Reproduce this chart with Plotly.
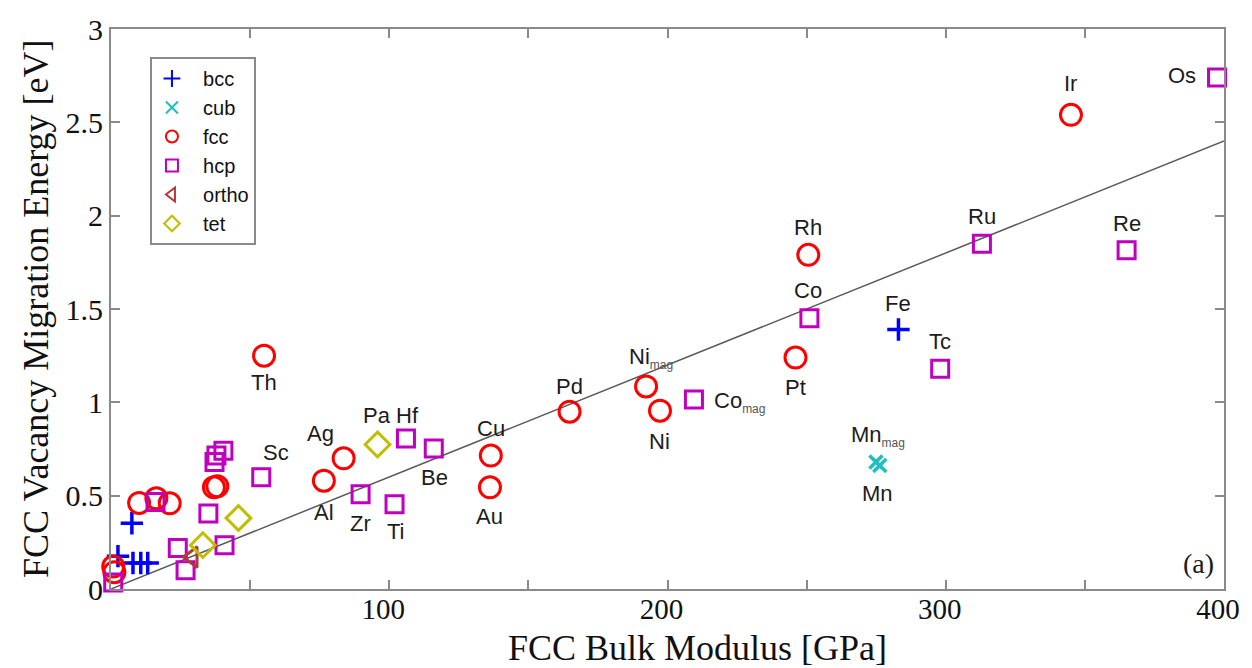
import numpy as np
import plotly.graph_objects as go

# FCC bulk modulus [GPa] vs. FCC vacancy migration energy [eV],
# grouped by each element's ground-state crystal structure.
bcc_modulus = [2.5, 7.5, 7.9, 10.7, 13.2, 283.0]
bcc_energy = [0.176, 0.352, 0.139, 0.139, 0.139, 1.39]
bcc_labels = ["", "", "", "", "", "Fe"]

cub_modulus = [274.9, 276.3]
cub_energy = [0.68, 0.662]
cub_labels = ["Mn_mag", "Mn"]

fcc_modulus = [0.8, 1.2, 10.1, 16.3, 21.1, 37.0, 38.2, 55.0, 76.5, 83.6,
               136.5, 136.2, 164.8, 192.3, 197.3, 246.0, 250.6, 345.0]
fcc_energy = [0.12, 0.09, 0.461, 0.486, 0.459, 0.545, 0.55, 1.25, 0.58, 0.70,
              0.715, 0.545, 0.95, 1.085, 0.955, 1.24, 1.79, 2.54]
fcc_labels = ["", "", "", "", "", "", "", "Th", "Al", "Ag",
              "Cu", "Au", "Pd", "Ni_mag", "Ni", "Pt", "Rh", "Ir"]

hcp_modulus = [0.8, 16.0, 24.0, 26.8, 35.0, 37.2, 37.9, 40.4, 40.8, 54.0,
               89.7, 101.9, 106.0, 116.0, 209.5, 251.0, 298.0, 313.0, 365.0, 397.5]
hcp_energy = [0.035, 0.466, 0.22, 0.10, 0.405, 0.68, 0.715, 0.74, 0.235, 0.598,
              0.507, 0.454, 0.806, 0.753, 1.015, 1.45, 1.18, 1.85, 1.815, 2.74]
hcp_labels = ["", "", "", "", "", "", "", "", "", "Sc",
              "Zr", "Ti", "Hf", "Be", "Co_mag", "Co", "Tc", "Ru", "Re", "Os"]

ortho_modulus = [29.3]
ortho_energy = [0.171]
ortho_labels = [""]

tet_modulus = [33.0, 45.8, 95.8]
tet_energy = [0.235, 0.38, 0.774]
tet_labels = ["", "", "Pa"]

# Linear fit through the origin
fit_slope = 0.006
fit_intercept = 0.0
fit_range = [0, 400]

# Label placement relative to its marker, in pixels (dx right, dy down)
label_offsets = {
    "Fe": (0, -26), "Mn_mag": (2, -26), "Mn": (-2, 28),
    "Th": (0, 27), "Al": (0, 32), "Ag": (-23, -25), "Cu": (0, -27),
    "Au": (0, 29), "Pd": (0, -25), "Ni_mag": (5, -28), "Ni": (0, 31),
    "Pt": (0, 30), "Rh": (0, -27), "Ir": (0, -31),
    "Sc": (15, -25), "Zr": (0, 29), "Ti": (1, 27), "Hf": (2, -23),
    "Be": (1, 29), "Co_mag": (46, 2), "Co": (-1, -28), "Tc": (0, -27),
    "Ru": (0, -27), "Re": (0, -27), "Os": (-35, -2), "Pa": (-1, -29),
}

SANS = "Liberation Sans, Arial, sans-serif"
SERIF = "Liberation Serif, Times New Roman, serif"
AXIS_GREY = "#8a8a8a"
LEGEND_PAD = "\u00a0\u00a0"  # widens the gap between legend symbol and text

series = [
    ("bcc", bcc_modulus, bcc_energy, bcc_labels,
     dict(symbol="cross-thin-open", size=16, color="#0000ff",
          line=dict(color="#0000ff", width=3.5))),
    ("cub", cub_modulus, cub_energy, cub_labels,
     dict(symbol="x-thin-open", size=13, color="#20bfbf",
          line=dict(color="#20bfbf", width=3.5))),
    ("fcc", fcc_modulus, fcc_energy, fcc_labels,
     dict(symbol="circle-open", size=21, color="#ff0000",
          line=dict(color="#ff0000", width=3))),
    ("hcp", hcp_modulus, hcp_energy, hcp_labels,
     dict(symbol="square-open", size=17, color="#bf00bf",
          line=dict(color="#bf00bf", width=3))),
    ("ortho", ortho_modulus, ortho_energy, ortho_labels,
     dict(symbol="triangle-left-open", size=18, color="#b03a3a",
          line=dict(color="#b03a3a", width=3))),
    ("tet", tet_modulus, tet_energy, tet_labels,
     dict(symbol="diamond-open", size=19, color="#bfbf00",
          line=dict(color="#bfbf00", width=3))),
]

fig = go.Figure()

fit_x = np.array(fit_range, dtype=float)
fig.add_trace(go.Scatter(
    x=fit_x, y=fit_slope * fit_x + fit_intercept, mode="lines",
    line=dict(color="#5a5a5a", width=1.5), showlegend=False, hoverinfo="skip",
))

for name, xs, ys, _, marker in series:
    fig.add_trace(go.Scatter(
        x=xs, y=ys, mode="markers", name=LEGEND_PAD + name, marker=marker,
        cliponaxis=False,
    ))


def label_html(label):
    if label.endswith("_mag"):
        base = label[:-4]
        return (base + '<sub><span style="font-size:12px;fill:#555555">mag</span></sub>')
    return label


for name, xs, ys, labels, _ in series:
    for xv, yv, lab in zip(xs, ys, labels):
        if not lab:
            continue
        dx, dy = label_offsets[lab]
        fig.add_annotation(
            x=xv, y=yv, xref="x", yref="y", text=label_html(lab),
            showarrow=False, xanchor="center", yanchor="middle",
            xshift=dx, yshift=-dy,
            font=dict(family=SANS, size=22, color="#1c1c1c"),
        )

# Panel tag
fig.add_annotation(
    x=1, y=0, xref="paper", yref="paper", text="(a)", showarrow=False,
    xanchor="right", yanchor="bottom", xshift=-8, yshift=8,
    font=dict(family=SERIF, size=28, color="#1c1c1c"),
)

# Axis titles
title_font = dict(family=SERIF, size=36, color="#111111")
fig.add_annotation(
    x=0.527, y=0, xref="paper", yref="paper", text="FCC Bulk Modulus [GPa]",
    showarrow=False, xanchor="center", yanchor="middle", yshift=-59,
    font=title_font,
)
fig.add_annotation(
    x=0, y=0.5, xref="paper", yref="paper",
    text="FCC Vacancy Migration Energy [eV]", textangle=-90,
    showarrow=False, xanchor="center", yanchor="middle", xshift=-75,
    font=title_font,
)

axis_common = dict(
    showline=True, mirror="ticks", linecolor=AXIS_GREY, linewidth=2,
    ticks="inside", ticklen=9, tickwidth=1.5, tickcolor=AXIS_GREY,
    showgrid=False, zeroline=False,
)

fig.update_layout(
    width=1252, height=668,
    margin=dict(l=111, r=22, t=27, b=79),
    paper_bgcolor="white", plot_bgcolor="white",
    xaxis=dict(
        range=[0, 400], tickvals=[100, 200, 300, 400],
        ticklabelshift=-6, ticklabelstandoff=-7,
        tickfont=dict(family=SERIF, size=29, color="#111111"),
        minor=dict(tickvals=[50, 150, 250, 350], ticks="inside", ticklen=9,
                   tickwidth=1.5, tickcolor=AXIS_GREY, showgrid=False),
        **axis_common,
    ),
    yaxis=dict(
        range=[0, 3], tickvals=[0, 0.5, 1, 1.5, 2, 2.5, 3],
        ticktext=["0", "0.5", "1", "1.5", "2", "2.5", "3"],
        tickfont=dict(family=SERIF, size=30, color="#111111"),
        **axis_common,
    ),
    legend=dict(
        x=0.035, y=0.95, xanchor="left", yanchor="top",
        bgcolor="white", bordercolor=AXIS_GREY, borderwidth=2,
        font=dict(family=SANS, size=20, color="#111111"),
        itemsizing="constant", tracegroupgap=0,
    ),
    showlegend=True,
)

fig.write_html("out.html")
